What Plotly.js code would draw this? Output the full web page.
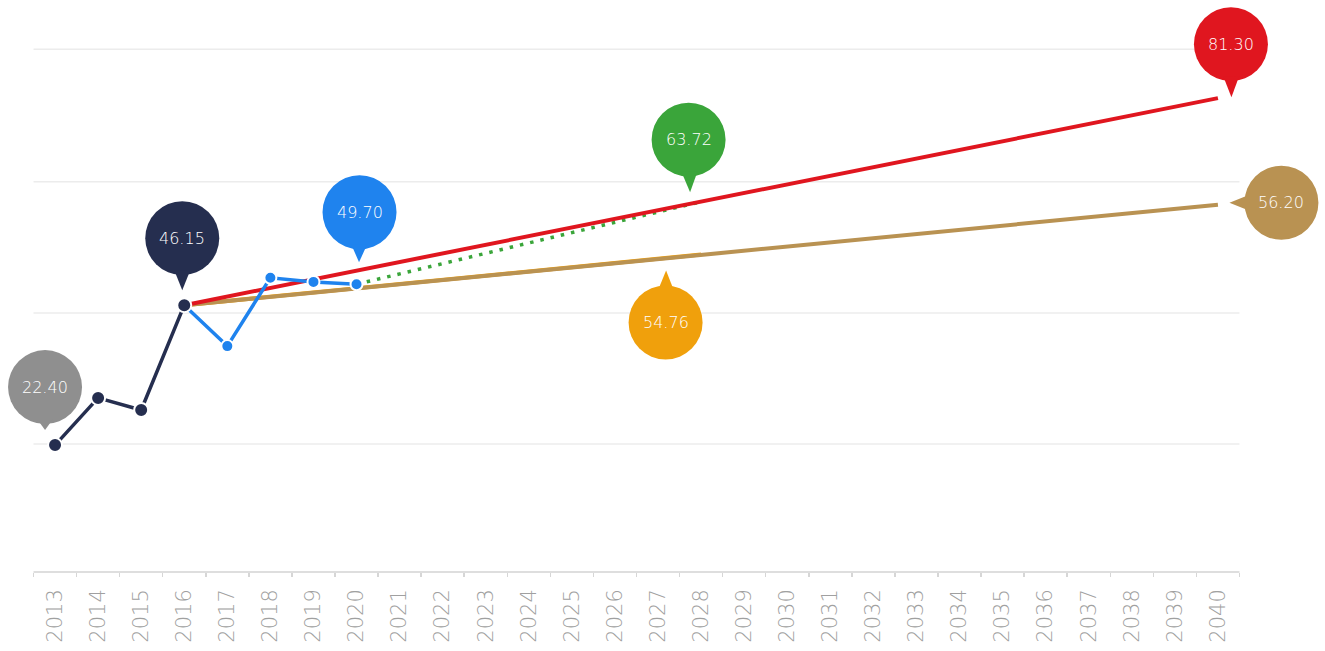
<!DOCTYPE html>
<html>
<head>
<meta charset="utf-8">
<script src="https://cdn.plot.ly/plotly-3.0.1.min.js"></script>
<style>
  html, body { margin: 0; padding: 0; background: #ffffff; }
  #chart { width: 1325px; height: 651px; }
</style>
</head>
<body>
<div id="chart"></div>
<script>
// ---------------- DATA ----------------
const yearLabels = ['2013','2014','2015','2016','2017','2018','2019','2020','2021','2022','2023','2024','2025','2026','2027','2028','2029','2030','2031','2032','2033','2034','2035','2036','2037','2038','2039','2040'];

const histYears = [2013, 2014, 2015, 2016];
const histValues = [22.40, 30.4, 28.35, 46.15];

const recentYears = [2016, 2017, 2018, 2019, 2020];
const recentValues = [46.15, 39.2, 50.8, 50.1, 49.70];

const highYears = [2016, 2040];
const highValues = [46.15, 81.30];

const lowYears = [2016, 2040];
const lowValues = [46.15, 63.2];

const midYears = [2020, 2028];
const midValues = [49.70, 63.72];

const orangeYears = [2016, 2028];
const orangeValues = [46.15, 54.76];

// callout labels (year, value they point to, text)
const calloutYears  = [2013, 2016, 2020, 2028, 2028, 2040, 2040];
const calloutValues = [22.40, 46.15, 49.70, 63.72, 54.76, 81.30, 63.2];
const calloutTexts  = ['22.40', '46.15', '49.70', '63.72', '54.76', '81.30', '56.20'];

// ---------------- STYLE ----------------
const C = {
  navy: '#252e4f', blue: '#1f83ee', red: '#e0161f', brown: '#b99252',
  green: '#3aa53a', orange: '#f0a00c', gray: '#8f8f8f', grid: '#ececec', axis: '#dedede'
};
// per-callout: colour, centre offset (px, up positive), tip offset (px)
const calloutStyle = [
  {color: C.gray,   c: [-10, 58],   t: [-10, 15]},
  {color: C.navy,   c: [-2, 67],    t: [-2, 15]},
  {color: C.blue,   c: [3, 72],     t: [2.5, 22]},
  {color: C.green,  c: [-12.5, 62], t: [-11, 9.5]},
  {color: C.orange, c: [-35.5, -68],t: [-35, -16]},
  {color: C.red,    c: [13, 54],    t: [13.5, 1]},
  {color: C.brown,  c: [63.5, 2],   t: [11.5, 2]}
];
const R = 37;

const gridVals = [22.6, 44.8, 67.1, 89.6];

// ---------------- TRACES ----------------
const traces = [
  {x: orangeYears, y: orangeValues, mode: 'lines', line: {color: C.orange, width: 4}, hoverinfo: 'skip'},
  {x: lowYears, y: lowValues, mode: 'lines', line: {color: C.brown, width: 4}, hoverinfo: 'skip'},
  {x: midYears, y: midValues, mode: 'lines', line: {color: C.green, width: 3.5, dash: '3.5px,7px'}, hoverinfo: 'skip'},
  {x: highYears, y: highValues, mode: 'lines', line: {color: C.red, width: 4}, hoverinfo: 'skip'},
  {x: recentYears, y: recentValues, mode: 'lines+markers', line: {color: C.blue, width: 3.5},
   marker: {color: C.blue, size: 12, line: {color: '#ffffff', width: 2}}, hoverinfo: 'skip'},
  {x: histYears, y: histValues, mode: 'lines+markers', line: {color: C.navy, width: 3.5},
   marker: {color: C.navy, size: 14, line: {color: '#ffffff', width: 2}}, hoverinfo: 'skip'}
];

// ---------------- SHAPES ----------------
const firstYear = +yearLabels[0], lastYear = +yearLabels[yearLabels.length - 1];
const shapes = [];
gridVals.forEach(v => shapes.push({
  type: 'line', xref: 'x', yref: 'y', x0: firstYear - 0.5, x1: lastYear + 0.5, y0: v, y1: v,
  line: {color: C.grid, width: 1.5}, layer: 'below'
}));
shapes.push({
  type: 'line', xref: 'x', yref: 'paper', x0: firstYear - 0.5, x1: lastYear + 0.5, y0: 0, y1: 0,
  line: {color: C.axis, width: 2}, layer: 'below'
});

const annotations = [];
calloutYears.forEach((yr, i) => {
  const s = calloutStyle[i];
  const cx = s.c[0], cy = s.c[1], tx = s.t[0], ty = s.t[1];
  shapes.push({
    type: 'circle', xref: 'x', yref: 'y', xsizemode: 'pixel', ysizemode: 'pixel',
    xanchor: yr, yanchor: calloutValues[i],
    x0: cx - R, x1: cx + R, y0: cy - R, y1: cy + R,
    fillcolor: s.color, line: {width: 0}, layer: 'above'
  });
  const dx = tx - cx, dy = ty - cy, L = Math.hypot(dx, dy);
  const ux = dx / L, uy = dy / L, px = -uy, py = ux;
  const bx = cx + ux * (R - 5), by = cy + uy * (R - 5);
  const path = 'M' + (bx + px * 8).toFixed(2) + ',' + (by + py * 8).toFixed(2) +
               ' L' + tx.toFixed(2) + ',' + ty.toFixed(2) +
               ' L' + (bx - px * 8).toFixed(2) + ',' + (by - py * 8).toFixed(2) + ' Z';
  shapes.push({
    type: 'path', xref: 'x', yref: 'y', xsizemode: 'pixel', ysizemode: 'pixel',
    xanchor: yr, yanchor: calloutValues[i], path: path,
    fillcolor: s.color, line: {width: 0}, layer: 'above'
  });
  annotations.push({
    x: yr, y: calloutValues[i], xref: 'x', yref: 'y', xshift: cx, yshift: cy,
    text: calloutTexts[i], showarrow: false,
    font: {family: 'DejaVu Sans', size: 16, color: '#ffffff', weight: 200}
  });
});

const minorTicks = yearLabels.map(y => +y - 0.5).concat([lastYear + 0.5]);

// ---------------- LAYOUT ----------------
const layout = {
  width: 1325, height: 651,
  margin: {l: 0, r: 0, t: 0, b: 79, pad: 0},
  paper_bgcolor: '#ffffff', plot_bgcolor: '#ffffff',
  showlegend: false,
  xaxis: {
    type: 'linear', range: [2011.722, 2042.486],
    tickmode: 'array', tickvals: yearLabels.map(Number), ticktext: yearLabels,
    tickangle: -90, ticks: '', showgrid: false, zeroline: false, showline: false,
    ticklabelstandoff: 12,
    tickfont: {family: 'DejaVu Sans', size: 21, color: '#a0a0a0', weight: 200},
    minor: {tickmode: 'array', tickvals: minorTicks, ticks: 'outside', ticklen: 4, tickcolor: '#d6d6d6', tickwidth: 1.5, showgrid: false},
    fixedrange: true
  },
  yaxis: {
    range: [0.85, 97.96], showgrid: false, zeroline: false, showline: false,
    showticklabels: false, ticks: '', fixedrange: true
  },
  shapes: shapes,
  annotations: annotations
};

Plotly.newPlot('chart', traces, layout, {displayModeBar: false, staticPlot: true});
</script>
</body>
</html>
